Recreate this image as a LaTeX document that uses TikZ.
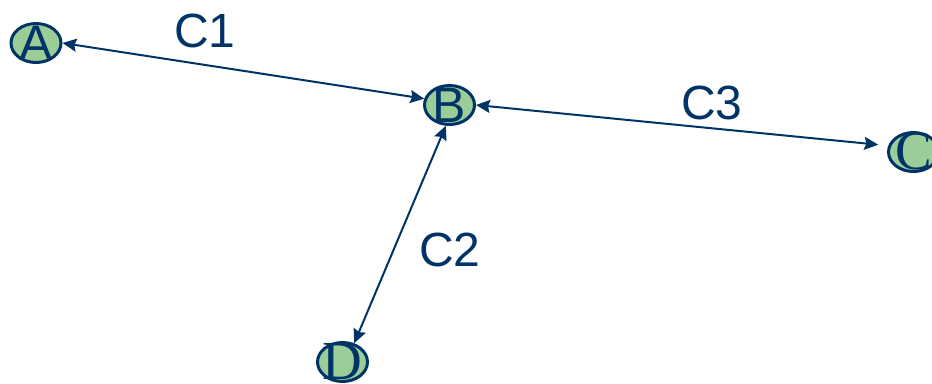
\documentclass[tikz,border=0pt]{standalone}
\usepackage{fontspec}
\setmainfont{Liberation Sans}
\newfontfamily\serifletters{Liberation Serif}
\usetikzlibrary{shapes,arrows.meta}
\definecolor{navy}{RGB}{0,51,102}
\definecolor{leaf}{RGB}{155,205,152}

\begin{document}
\begin{tikzpicture}[x=1pt,y=-1pt]
      \tikzset{site/.style={ellipse,
          draw=navy,
          line width=3pt,
          fill=leaf,
          inner sep=0pt,
          minimum width=50pt,
          minimum height=39pt,
          label={[text=navy,inner sep=0pt,font=\fontsize{50}{50}\selectfont]center:#1}},
        link/.style={navy,line width=2pt,
          {Stealth[length=14pt,width=13pt,inset=2pt]}-{Stealth[length=14pt,width=13pt,inset=2pt]}},
        cname/.style={text=navy,font=\fontsize{48}{48}\selectfont}
      }
      \useasboundingbox (0,0) rectangle (932,383);
      \node [site=A] (A) at (36,43) {};
      \node [site=B] (B) at (449.5,105) {};
      \node [site={\serifletters\fontsize{55}{55}\selectfont C}] (C) at (913.5,152) {};
      \node [site={\serifletters\fontsize{55}{55}\selectfont D}] (D) at (342.5,362) {};
      \draw [link] (A.east)--(B.166);
      \draw [link,shorten >=10pt] (B.east)--(C.166);
      \draw [link] (B.260)--(D.58);

      \node [cname] (c1) at (205,31) {C1};
      \node [cname] (c2) at (450,250) {C2};
      \node [cname] (c3) at (712,102.5) {C3};
    \end{tikzpicture}
\end{document}
